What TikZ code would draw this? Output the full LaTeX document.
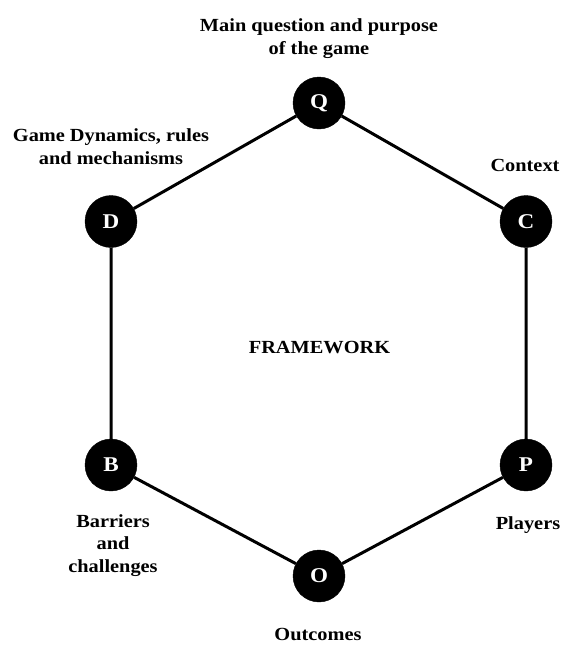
\documentclass[tikz,border=0pt]{standalone}
\usepackage{fontspec}
\setmainfont{Liberation Serif}[FakeStretch=1.1]
\begin{document}
\begin{tikzpicture}[x=1pt,y=-1pt,
  hub/.style={circle,fill=black,draw=black,minimum size=52pt,inner sep=0pt,
    text=white,font=\fontsize{21}{24}\selectfont\bfseries},
  lab/.style={align=center,font=\fontsize{18.5}{22.6}\selectfont\bfseries,inner sep=0pt},
  edge/.style={line width=3pt,black}]
\useasboundingbox (0,0) rectangle (565,646);
\node[hub] (Q) at (319,103) {Q};
\node[hub] (C) at (526,221.5) {C};
\node[hub] (P) at (526,465) {P};
\node[hub] (O) at (319,576) {O};
\node[hub] (B) at (111,465) {B};
\node[hub] (D) at (111,221.5) {D};
\draw[edge] (Q) -- (C) -- (P) -- (O) -- (B) -- (D) -- (Q);
\node[lab,anchor=base] (tq) at (319,54.3) {Main question and purpose\\of the game};
\node[lab,anchor=base] (td) at (111,164) {Game Dynamics, rules\\and mechanisms};
\node[lab,anchor=base] (tc) at (525,171.7) {Context};
\node[lab,anchor=base] (tp) at (528,529) {Players};
\node[lab,anchor=base] (tb) at (113,572.5) {Barriers\\and\\challenges};
\node[lab,anchor=base] (to) at (318,640) {Outcomes};
\node[lab,anchor=base] (tf) at (319.5,353) {FRAMEWORK};
\end{tikzpicture}
\end{document}
